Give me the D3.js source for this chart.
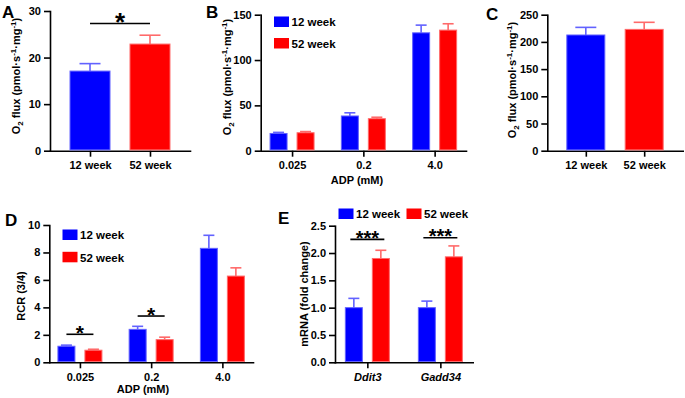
<!DOCTYPE html>
<html>
<head>
<meta charset="utf-8">
<script src="https://cdn.jsdelivr.net/npm/d3@7"></script>
<style>
    body { margin: 0; background: #fff; }
    svg { font-family: Arial, "Liberation Sans", sans-serif; font-weight: bold; }
    .axis path, .axis line { stroke: #000; stroke-width: 1.6px; }
    .axis text { font-size: 11px; font-weight: bold; fill: #000; font-family: Arial, "Liberation Sans", sans-serif; }
</style>
</head>
<body>
<div id="chart"></div>
<script>
// ---- data ----
var ages = ["12 week", "52 week"];
var adpDoses = ["0.025", "0.2", "4.0"];
var genes = ["Ddit3", "Gadd34"];

// A: O2 flux, single
var fluxA = [17.1, 22.9];
var fluxAErr = [1.6, 1.9];
// B: O2 flux vs ADP
var flux12 = [19.0, 38.3, 130.0];
var flux12Err = [1.2, 3.5, 8.5];
var flux52 = [19.8, 35.3, 133.0];
var flux52Err = [1.3, 1.6, 7.0];
// C: O2 flux, max
var fluxC = [212.7, 223.0];
var fluxCErr = [14.0, 13.0];
// D: RCR
var rcr12 = [1.17, 2.4, 8.3];
var rcr12Err = [0.08, 0.22, 0.95];
var rcr52 = [0.88, 1.65, 6.28];
var rcr52Err = [0.07, 0.18, 0.6];
// E: mRNA
var mrna12 = [1.0, 1.0];
var mrna12Err = [0.17, 0.12];
var mrna52 = [1.9, 1.93];
var mrna52Err = [0.15, 0.2];

// significance marks (category pair, height in data units)
var sigA = [{y: 27.3, label: "*"}];
var sigD = [{cat: "0.025", y: 2.04, label: "*"}, {cat: "0.2", y: 3.37, label: "*"}];
var sigE = [{cat: "Ddit3", y: 2.25, label: "***"}, {cat: "Gadd34", y: 2.28, label: "***"}];

var fills = {"12 week": "#0000ff", "52 week": "#ff0000"};
var edges = {"12 week": "#6262ff", "52 week": "#ff6a6a"};

var svg = d3.select("#chart").append("svg")
    .attr("width", 685)
    .attr("height", 398);

// draws axes for one panel, returns scales
function makePanel(o) {
    var x = d3.scalePoint().domain(o.cats).range([o.x0, o.x1]).padding(o.pad);
    var y = d3.scaleLinear().domain([0, o.yMax]).range([o.yb, o.yt]);

    svg.append("g")
        .attr("class", "axis")
        .attr("transform", "translate(0," + o.yb + ")")
        .call(d3.axisBottom(x).tickSizeInner(6).tickSizeOuter(0).tickPadding(5))
        .selectAll("text")
        .style("font-style", o.italic ? "italic" : null);

    svg.append("g")
        .attr("class", "axis")
        .attr("transform", "translate(" + o.x0 + ",0)")
        .call(d3.axisLeft(y).tickValues(o.ticks).tickFormat(o.fmt || d3.format("d"))
            .tickSizeInner(6).tickSizeOuter(0).tickPadding(3));

    svg.selectAll(".axis path").attr("stroke-linecap", "square");
    return {x: x, y: y};
}

function drawBar(cx, w, y, val, err, key, capW) {
    var g = svg.append("g");
    g.append("line")
        .attr("x1", cx).attr("x2", cx)
        .attr("y1", y(val)).attr("y2", y(val + err))
        .attr("stroke", edges[key]).attr("stroke-width", 1.6);
    g.append("line")
        .attr("x1", cx - capW / 2).attr("x2", cx + capW / 2)
        .attr("y1", y(val + err)).attr("y2", y(val + err))
        .attr("stroke", edges[key]).attr("stroke-width", 1.6);
    g.append("rect")
        .attr("x", cx - w / 2 + 0.5)
        .attr("y", y(val))
        .attr("width", w - 1)
        .attr("height", y(0) - y(val) - 0.8)
        .attr("fill", fills[key])
        .attr("stroke", edges[key])
        .attr("stroke-width", 1);
}

function sigMark(xa, xb, yPix, label, fs) {
    svg.append("line")
        .attr("x1", xa).attr("x2", xb)
        .attr("y1", yPix).attr("y2", yPix)
        .attr("stroke", "#000").attr("stroke-width", 1.6);
    svg.append("text")
        .attr("x", (xa + xb) / 2)
        .attr("y", yPix + fs * 0.28)
        .attr("text-anchor", "middle")
        .style("font-size", fs + "px")
        .text(label);
}

function yTitle(cx, cy, parts) {
    var t = svg.append("text")
        .attr("transform", "translate(" + cx + "," + cy + ") rotate(-90)")
        .attr("text-anchor", "middle")
        .style("font-size", "11px");
    parts.forEach(function(p) {
        var s = t.append("tspan").text(p.t);
        if (p.sub) s.attr("dy", 3).style("font-size", "8px");
        if (p.sup) s.attr("dy", -4).style("font-size", "8px");
        if (p.back) s.attr("dy", p.back);
    });
}

var fluxTitle = [
    {t: "O"}, {t: "2", sub: true}, {t: " flux (pmol·s", back: -3},
    {t: "-1", sup: true}, {t: "·mg", back: 4}, {t: "-1", sup: true}, {t: ")", back: 4}
];

function label(x, y, txt, fs) {
    svg.append("text").attr("x", x).attr("y", y).style("font-size", fs + "px").text(txt);
}

function legend(items) {
    items.forEach(function(it) {
        svg.append("rect").attr("x", it.x).attr("y", it.y).attr("width", 15).attr("height", 10.5)
            .attr("fill", fills[it.key]);
        svg.append("text").attr("x", it.x + 17.5).attr("y", it.y + 9.8)
            .style("font-size", "11.5px").text(it.key);
    });
}

// ---- Panel A ----
var pA = makePanel({cats: ages, x0: 50, x1: 190, pad: 0.667, yb: 150.7, yt: 11, yMax: 30, ticks: [0, 10, 20, 30]});
ages.forEach(function(a, i) {
    drawBar(pA.x(a), 41, pA.y, fluxA[i], fluxAErr[i], a, 21);
});
sigA.forEach(function(s) { sigMark(pA.x(ages[0]), pA.x(ages[1]), pA.y(s.y), s.label, 26); });
yTitle(20, 76, fluxTitle);
label(2, 18, "A", 17);

// ---- Panel B ----
var inner = d3.scaleBand().domain(ages).range([-22.5, 22.5]).paddingInner(1 / 3);
var pB = makePanel({cats: adpDoses, x0: 260.7, x1: 466, pad: 0.44, yb: 150.7, yt: 14.7, yMax: 150, ticks: [0, 50, 100, 150]});
adpDoses.forEach(function(d, i) {
    drawBar(pB.x(d) + inner(ages[0]) + inner.bandwidth() / 2, inner.bandwidth(), pB.y, flux12[i], flux12Err[i], ages[0], 11);
    drawBar(pB.x(d) + inner(ages[1]) + inner.bandwidth() / 2, inner.bandwidth(), pB.y, flux52[i], flux52Err[i], ages[1], 11);
});
yTitle(231, 77, fluxTitle);
svg.append("text").attr("x", 357).attr("y", 183.5).attr("text-anchor", "middle").style("font-size", "11px").text("ADP (mM)");
legend([{key: ages[0], x: 274, y: 16.5}, {key: ages[1], x: 274, y: 38}]);
label(206, 18, "B", 17);

// ---- Panel C ----
var pC = makePanel({cats: ages, x0: 547.3, x1: 682.7, pad: 0.66, yb: 150.7, yt: 14.7, yMax: 250, ticks: [0, 50, 100, 150, 200, 250]});
ages.forEach(function(a, i) {
    drawBar(pC.x(a), 39, pC.y, fluxC[i], fluxCErr[i], a, 21);
});
yTitle(516, 80, fluxTitle);
label(486, 20, "C", 17);

// ---- Panel D ----
var pD = makePanel({cats: adpDoses, x0: 49.3, x1: 253, pad: 0.43, yb: 362.3, yt: 225, yMax: 10, ticks: [0, 2, 4, 6, 8, 10]});
adpDoses.forEach(function(d, i) {
    drawBar(pD.x(d) + inner(ages[0]) + inner.bandwidth() / 2, inner.bandwidth(), pD.y, rcr12[i], rcr12Err[i], ages[0], 11);
    drawBar(pD.x(d) + inner(ages[1]) + inner.bandwidth() / 2, inner.bandwidth(), pD.y, rcr52[i], rcr52Err[i], ages[1], 11);
});
sigD.forEach(function(s) {
    sigMark(pD.x(s.cat) + inner(ages[0]) + inner.bandwidth() / 2, pD.x(s.cat) + inner(ages[1]) + inner.bandwidth() / 2,
        pD.y(s.y), s.label, 21);
});
yTitle(25, 296, [{t: "RCR (3/4)"}]);
svg.append("text").attr("x", 143).attr("y", 393).attr("text-anchor", "middle").style("font-size", "11px").text("ADP (mM)");
legend([{key: ages[0], x: 62.5, y: 229.5}, {key: ages[1], x: 62.5, y: 251.8}]);
label(5, 226, "D", 17);

// ---- Panel E ----
var pE = makePanel({cats: genes, x0: 335, x1: 472.7, pad: 0.443, yb: 362.3, yt: 225.7, yMax: 2.5,
    ticks: [0, 0.5, 1, 1.5, 2, 2.5], fmt: d3.format(".1f"), italic: true});
genes.forEach(function(gn, i) {
    drawBar(pE.x(gn) + inner(ages[0]) + inner.bandwidth() / 2, inner.bandwidth(), pE.y, mrna12[i], mrna12Err[i], ages[0], 11);
    drawBar(pE.x(gn) + inner(ages[1]) + inner.bandwidth() / 2, inner.bandwidth(), pE.y, mrna52[i], mrna52Err[i], ages[1], 11);
});
sigE.forEach(function(s) {
    sigMark(pE.x(s.cat) + inner(ages[0]) + inner.bandwidth() / 2 - 3.5, pE.x(s.cat) + inner(ages[1]) + inner.bandwidth() / 2 + 3.5,
        pE.y(s.y), s.label, 20);
});
yTitle(308, 294, [{t: "mRNA (fold change)"}]);
legend([{key: ages[0], x: 338.5, y: 208.5}, {key: ages[1], x: 406.5, y: 208.5}]);
label(278, 224, "E", 17);
</script>
</body>
</html>
